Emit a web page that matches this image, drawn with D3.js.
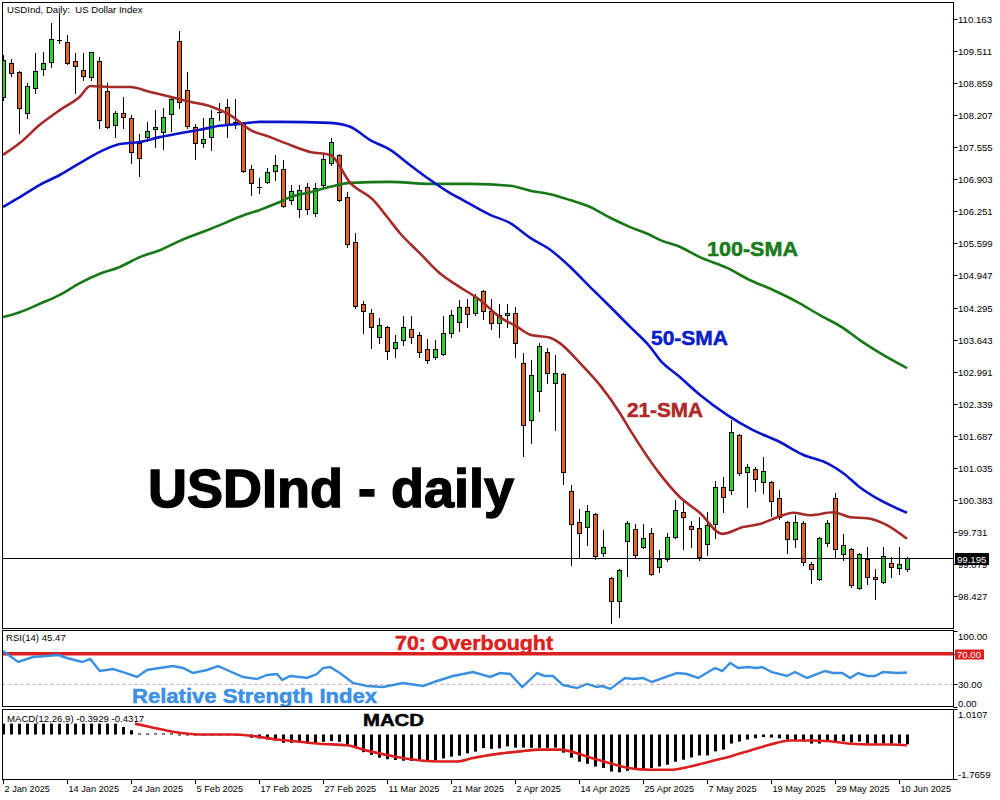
<!DOCTYPE html>
<html><head><meta charset="utf-8">
<script src="https://cdn.jsdelivr.net/npm/d3@7"></script>
<style>body{margin:0;background:#fff}svg{display:block}</style>
</head><body>
<svg id="c" width="1000" height="800"></svg>
<script>
// ---------- DATA ----------
const openP = [
108.58,109.27,109.09,108.25,108.76,109.15,109.29,109.74,109.70,109.31,
109.13,108.98,109.31,108.70,108.01,108.25,108.15,107.64,107.76,107.93,
107.87,108.23,109.72,108.72,107.97,107.64,107.76,108.25,108.37,108.07,
108.05,107.11,106.75,106.85,107.07,107.11,106.48,106.30,106.75,106.22,
106.79,107.23,107.40,106.54,105.63,104.37,104.18,103.70,103.90,103.47,
103.63,103.86,103.74,103.45,103.29,103.35,103.78,104.00,104.31,104.18,
104.63,104.22,103.98,104.14,104.18,103.17,102.01,102.60,103.39,102.76,
102.94,100.56,99.93,99.83,100.09,99.30,98.79,98.33,99.55,99.79,
99.42,99.71,99.02,99.18,99.63,100.13,99.85,99.81,99.49,99.89,
100.64,100.58,101.70,100.95,101.01,100.75,100.75,100.42,99.93,99.59,
99.91,99.08,98.77,99.51,100.42,99.28,99.38,98.59,99.18,98.81,
98.71,99.10,99.00,98.98];
const highP = [
109.43,109.35,109.11,108.86,109.47,109.49,110.08,110.29,109.84,109.47,
109.47,109.49,109.39,108.86,108.29,108.58,108.21,107.82,108.07,108.31,
108.35,108.58,109.92,109.09,108.03,108.15,108.31,108.45,108.54,108.54,
108.07,107.19,106.93,107.13,107.40,107.30,106.79,106.79,106.83,106.83,
107.42,107.74,107.42,106.64,105.81,104.43,104.27,104.08,103.92,103.74,
104.12,104.12,103.80,103.65,103.63,104.12,104.24,104.45,104.47,104.57,
104.65,104.47,104.37,104.37,104.31,103.37,103.23,103.57,103.47,103.33,
102.96,100.69,100.19,100.28,100.11,99.77,98.81,98.98,99.95,99.89,
99.89,99.81,99.36,99.71,100.38,100.34,99.95,100.03,100.13,100.77,
100.85,102.01,101.72,101.11,101.05,101.25,100.77,100.58,99.95,100.07,
99.95,99.12,99.63,99.97,100.52,99.69,99.40,99.30,99.42,98.98,
99.42,99.22,99.42,99.22];
const lowP = [
108.52,109.00,107.84,108.15,108.66,109.02,109.19,109.68,109.25,108.66,
108.92,108.92,107.95,107.95,107.76,107.95,107.23,106.97,107.68,107.56,
107.52,107.89,108.35,107.95,107.32,107.56,107.50,108.11,107.76,107.95,
107.05,106.58,106.62,106.83,106.89,106.34,106.40,106.14,106.20,106.16,
106.75,107.19,106.46,105.53,104.29,103.78,103.47,103.57,103.25,103.29,
103.53,103.57,103.29,103.17,103.25,103.33,103.70,103.82,103.90,104.14,
104.06,103.86,103.70,103.90,103.29,101.27,101.54,102.19,102.76,101.80,
100.71,99.06,99.22,99.47,99.18,99.24,97.88,98.00,98.83,99.20,
99.40,98.85,98.92,99.14,99.61,99.38,99.42,99.16,99.26,99.61,
100.13,100.50,100.89,100.23,100.56,100.52,100.05,99.99,99.30,99.42,
99.06,98.69,98.75,99.44,99.22,99.16,98.61,98.57,98.67,98.37,
98.69,98.81,98.87,98.94];
const closeP = [
109.33,109.07,108.35,108.80,109.11,109.27,109.76,109.72,109.27,109.21,
109.00,109.49,108.11,107.97,108.25,108.17,107.46,107.34,107.89,107.97,
108.17,108.54,108.48,107.99,107.64,107.72,108.15,108.27,108.01,108.03,
107.07,106.83,106.73,107.05,107.19,106.36,106.67,106.69,106.30,106.73,
107.32,107.66,106.48,105.59,104.33,104.22,103.90,103.94,103.41,103.59,
103.90,103.70,103.39,103.23,103.45,103.78,104.14,104.31,104.16,104.51,
104.22,103.98,104.14,104.18,103.57,101.91,102.92,103.51,102.96,102.96,
100.95,99.89,99.71,100.15,99.24,99.42,98.33,98.96,99.91,99.26,
99.61,98.87,99.18,99.63,100.17,100.03,99.79,99.22,99.87,100.64,
100.44,101.76,100.93,101.05,100.81,100.97,100.36,100.03,99.59,99.93,
99.12,98.98,99.61,99.91,99.38,99.47,98.65,99.28,98.81,98.77,
99.24,99.02,99.08,99.195];

// moving averages: [bar index, value]
const sma21 = [[0,107.40],[2.1,107.64],[4.6,108.01],[7.1,108.31],[9.6,108.58],[10.9,108.80],[13.4,108.78],[15.9,108.78],[18.4,108.68],[20.9,108.58],[23.4,108.48],[25.9,108.39],[28.4,108.21],[30.9,107.91],[33.4,107.76],[35.9,107.60],[38.4,107.46],[40.9,107.40],[43.4,106.83],[46.3,106.48],[48,106.14],[49.6,105.81],[52.1,105.40],[54.6,104.99],[57.1,104.71],[59.6,104.45],[62.1,104.10],[64.3,103.90],[65.9,103.74],[68.4,103.68],[69.6,103.57],[72.1,103.17],[74.6,102.72],[77.1,102.15],[78.4,101.80],[82.1,100.91],[84.6,100.44],[87.1,100.12],[89.9,99.69],[92.5,99.83],[94.6,99.89],[96.8,100.03],[98.8,100.12],[100.9,100.07],[103.8,100.13],[105.9,100.03],[108,100.01],[110.5,99.87],[113,99.59]];
const sma50 = [[0,106.34],[2.1,106.54],[4.6,106.79],[7.1,106.99],[9.6,107.23],[12.1,107.46],[14.6,107.62],[17.1,107.66],[19.6,107.76],[22.1,107.84],[24.6,107.91],[27.1,107.99],[29.6,108.03],[32.1,108.07],[34.6,108.07],[40.9,108.05],[43.4,107.97],[45.9,107.70],[48.4,107.50],[50.9,107.19],[53.4,106.89],[55.9,106.62],[57.5,106.48],[60.9,106.18],[63.4,106.01],[65.9,105.71],[68.4,105.47],[70.9,105.12],[73.4,104.71],[75.9,104.31],[78.4,103.90],[80.9,103.49],[82.1,103.23],[84.6,102.88],[87.1,102.52],[90.5,102.11],[93.75,101.80],[97.1,101.56],[100,101.30],[103,101.13],[105,100.93],[107.1,100.64],[109.6,100.38],[113,100.12]];
const sma100 = [[0,104.10],[2.1,104.20],[4.6,104.37],[7.1,104.55],[9.6,104.79],[12.1,104.98],[14.6,105.12],[17.1,105.32],[19.6,105.46],[22.1,105.65],[24.6,105.81],[27.1,105.97],[29.6,106.14],[32.1,106.28],[34.6,106.44],[35.9,106.54],[38.4,106.64],[40.9,106.75],[43.4,106.83],[48.4,106.85],[53.4,106.81],[58.4,106.81],[63.4,106.77],[65.9,106.67],[68.4,106.60],[70.9,106.48],[73.4,106.34],[75.9,106.12],[78.4,105.93],[80.9,105.77],[82.1,105.67],[84.6,105.53],[87.1,105.32],[90.5,105.10],[93.4,104.85],[96.25,104.65],[99.25,104.41],[102.1,104.14],[105,103.88],[107.1,103.63],[109.6,103.37],[113,103.06]];

// RSI(14): [bar index, value]
const rsi = [[0,73.7],[1.9,59.2],[3.75,65.8],[5.5,67.1],[6.9,68.4],[8,64.5],[9.9,59.2],[10.9,63.2],[12.1,47.4],[13.75,50],[15,46],[16.75,39.5],[18,48.7],[19.6,51.3],[21.25,53.9],[22.5,51.3],[23.75,44.7],[25.5,48.7],[26.9,53.9],[28,48.7],[30,39.5],[31.75,36.8],[33,42.1],[34.25,43.4],[34.9,35.5],[35.9,40.8],[37.1,39.5],[38,38.2],[39.25,43.4],[40,51.3],[40.9,52.6],[42.1,44.7],[43.75,31.6],[45.5,27.6],[47.5,26.3],[50,31.6],[52.5,27.6],[54.25,34.2],[56.25,40.8],[58.75,46],[60.9,39.5],[62.1,44.7],[63.4,43.4],[64.9,26.3],[66.75,44.7],[67.75,40.8],[68.75,40.8],[70,28.9],[71.75,25],[73,30.3],[74.25,26.3],[74.9,27.6],[75.9,23.7],[77.75,38.2],[78.75,36.8],[80,38.2],[81.1,32.9],[82.1,36.8],[84.25,44.7],[85.5,43.4],[86.9,38.2],[89,51.3],[89.9,47.4],[90.9,57.9],[91.9,51.3],[93.1,52.6],[94.25,51.3],[94.9,52.6],[96.1,46],[98,40.8],[99,46],[100.5,38.2],[102.75,47.4],[103.75,44.7],[104.9,44.7],[105.9,38.2],[106.9,44.7],[108,40.8],[109,40.8],[110,46],[111.9,44.7],[113,45.47]];

// MACD(12,26,9) histogram, one per bar
const macdHist = [
0.43,0.43,0.43,0.43,0.43,0.43,0.43,0.43,0.43,0.43,
0.43,0.43,0.43,0.43,0.43,0.30,0.17,0.04,0.04,0.04,
0.04,0.04,-0.03,-0.03,-0.03,-0.03,-0.03,-0.03,-0.03,-0.03,
-0.03,-0.13,-0.16,-0.20,-0.24,-0.33,-0.33,-0.33,-0.36,-0.36,
-0.29,-0.26,-0.29,-0.43,-0.54,-0.70,-0.81,-0.92,-0.98,-1.01,
-1.04,-1.05,-1.04,-1.04,-1.01,-0.95,-0.88,-0.84,-0.75,-0.68,
-0.54,-0.57,-0.55,-0.47,-0.52,-0.52,-0.53,-0.53,-0.53,-0.52,
-0.72,-0.92,-1.08,-1.16,-1.27,-1.33,-1.47,-1.50,-1.44,-1.40,
-1.40,-1.33,-1.27,-1.20,-1.08,-1.00,-0.91,-0.83,-0.83,-0.67,
-0.60,-0.36,-0.28,-0.20,-0.15,-0.10,-0.12,-0.15,-0.20,-0.22,
-0.27,-0.36,-0.36,-0.28,-0.28,-0.27,-0.32,-0.28,-0.36,-0.36,
-0.36,-0.36,-0.36,-0.39];
// MACD signal line: [bar index, value]
const macdSignal = [[16.5,0.43],[18.4,0.30],[21.25,0.11],[24.6,0.0],[28.75,0.0],[31.25,-0.06],[34.25,-0.20],[37.1,-0.29],[39.6,-0.37],[43,-0.43],[45.5,-0.64],[49.6,-0.91],[52.5,-1.04],[54.6,-1.07],[56.75,-1.07],[58.75,-0.93],[62.1,-0.76],[64.6,-0.67],[67.1,-0.60],[69.6,-0.60],[70.9,-0.67],[73.4,-0.91],[75.9,-1.14],[78.4,-1.34],[80.9,-1.40],[83.4,-1.40],[85.9,-1.27],[88.4,-1.07],[90.9,-0.87],[93.4,-0.64],[95.9,-0.40],[98.4,-0.24],[100.9,-0.24],[103.4,-0.27],[105.9,-0.37],[108.4,-0.40],[110.9,-0.40],[113,-0.43]];

const xTickIdx = [0,8,16,24,32,40,48,56,64,72,80,88,96,104,112];
const xTickLabels = ["2 Jan 2025","14 Jan 2025","24 Jan 2025","5 Feb 2025","17 Feb 2025","27 Feb 2025","11 Mar 2025","21 Mar 2025","2 Apr 2025","14 Apr 2025","25 Apr 2025","7 May 2025","19 May 2025","29 May 2025","10 Jun 2025"];
const priceTicks = [110.163,109.511,108.859,108.207,107.555,106.903,106.251,105.599,104.947,104.295,103.643,102.991,102.339,101.687,101.035,100.383,99.731,99.079,98.427];
const rsiTicks = [100,70,30,0];
const macdTicks = [1.0107,-1.7659];
const lastPrice = 99.195;

// ---------- DRAW ----------
const svg = d3.select('#c');
const FONT = "'Liberation Sans', Arial, sans-serif";
const L = 2.5, R = 953.5;
const P = {main:[2.5,628.5], rsi:[630.5,706.5], macd:[709.5,779.5]};

const x = d3.scaleLinear().domain([0,113]).range([3,907]);
const y = d3.scaleLinear().domain([98.427,110.163]).range([596,19]);
const yr = d3.scaleLinear().domain([0,100]).range([707,631]);
const ym = d3.scaleLinear().domain([-1.7659,1.0107]).range([779,709]);

svg.append('rect').attr('width',1000).attr('height',800).attr('fill','#fff');

const defs = svg.append('defs');
Object.entries(P).forEach(([k,[t,b]])=>{
  defs.append('clipPath').attr('id','clip-'+k).append('rect')
    .attr('x',L+0.5).attr('y',t+0.5).attr('width',R-L-1).attr('height',b-t-1);
});

// main panel
const gMain = svg.append('g').attr('clip-path','url(#clip-main)');
const bars = d3.range(openP.length);
bars.forEach(i=>{
  const cx = Math.round(x(i));
  const o=openP[i], h=highP[i], l=lowP[i], c=closeP[i];
  gMain.append('line').attr('x1',cx+0.5).attr('x2',cx+0.5)
    .attr('y1',Math.round(y(h))).attr('y2',Math.round(y(l))+1)
    .attr('stroke','#000').attr('stroke-width',1);
  const top = Math.round(y(Math.max(o,c))), bot = Math.round(y(Math.min(o,c)));
  if (Math.abs(o-c) < 0.025 || bot-top < 1) {
    gMain.append('line').attr('x1',cx-2).attr('x2',cx+3)
      .attr('y1',top+0.5).attr('y2',top+0.5).attr('stroke','#000');
  } else {
    gMain.append('rect').attr('x',cx-1.5).attr('y',top+0.5)
      .attr('width',4).attr('height',bot-top)
      .attr('fill', c>=o ? '#32cd32' : '#e1642d')
      .attr('stroke','#000').attr('stroke-width',1);
  }
});

// last price line
gMain.append('line').attr('x1',L).attr('x2',R)
  .attr('y1',Math.round(y(lastPrice))+0.5).attr('y2',Math.round(y(lastPrice))+0.5)
  .attr('stroke','#000').attr('stroke-width',1);

const lineP = d3.line().x(d=>x(d[0])).y(d=>y(d[1])).curve(d3.curveMonotoneX);
gMain.append('path').datum(sma100).attr('d',lineP).attr('fill','none').attr('stroke','#187818').attr('stroke-width',2.6);
gMain.append('path').datum(sma50).attr('d',lineP).attr('fill','none').attr('stroke','#0a14c8').attr('stroke-width',2.6);
gMain.append('path').datum(sma21).attr('d',lineP).attr('fill','none').attr('stroke','#a52a2a').attr('stroke-width',2.6);

// main annotations
svg.append('text').attr('x',7).attr('y',13).attr('font-family',FONT).attr('font-size',9.6).attr('fill','#000')
  .attr('xml:space','preserve').text('USDInd, Daily:  US Dollar Index');
svg.append('text').attr('x',148).attr('y',507).attr('font-family',FONT).attr('font-weight','bold')
  .attr('font-size',54).attr('fill','#000').attr('stroke','#000').attr('stroke-width',1.4)
  .attr('textLength',366).attr('lengthAdjust','spacingAndGlyphs').text('USDInd - daily');
const lab = (t,xx,yy,len,col,fs)=>svg.append('text').attr('x',xx).attr('y',yy).attr('font-family',FONT)
  .attr('font-weight','bold').attr('font-size',fs).attr('fill',col).attr('stroke',col).attr('stroke-width',0.5)
  .attr('textLength',len).attr('lengthAdjust','spacingAndGlyphs').text(t);
lab('100-SMA',707,256,91,'#1a7a1a',20);
lab('50-SMA',651,345,77,'#0a1ec8',20);
lab('21-SMA',627,417,76,'#b02828',20);

// RSI panel
const gR = svg.append('g').attr('clip-path','url(#clip-rsi)');
gR.append('line').attr('x1',L).attr('x2',R).attr('y1',Math.round(yr(30))+0.5).attr('y2',Math.round(yr(30))+0.5)
  .attr('stroke','#d4aaaa').attr('stroke-dasharray','3,3');
gR.append('line').attr('x1',L).attr('x2',R).attr('y1',yr(70)).attr('y2',yr(70))
  .attr('stroke','#dc1e1e').attr('stroke-width',3.5);
gR.append('path').datum(rsi).attr('d',d3.line().x(d=>x(d[0])).y(d=>yr(d[1])))
  .attr('fill','none').attr('stroke','#3a8fe0').attr('stroke-width',2.4);
svg.append('text').attr('x',6).attr('y',641).attr('font-family',FONT).attr('font-size',9.6).text('RSI(14) 45.47');
lab('70: Overbought',395,650,158,'#dc1e1e',20);
lab('Relative Strength Index',132,703,245,'#3c90e4',20);

// MACD panel
const gM = svg.append('g').attr('clip-path','url(#clip-macd)');
const z0 = ym(0);
bars.forEach(i=>{
  const cx = Math.round(x(i)); const v = macdHist[i];
  const yy = ym(v);
  const t = Math.min(yy,z0), hgt = Math.max(1, Math.abs(yy-z0));
  gM.append('rect').attr('x',cx-1).attr('y',t).attr('width',3).attr('height',hgt).attr('fill','#000');
});
gM.append('path').datum(macdSignal).attr('d',d3.line().x(d=>x(d[0])).y(d=>ym(d[1])).curve(d3.curveMonotoneX))
  .attr('fill','none').attr('stroke','#dc1e1e').attr('stroke-width',2.6);
svg.append('text').attr('x',7).attr('y',722).attr('font-family',FONT).attr('font-size',9.6).text('MACD(12,26,9) -0.3929 -0.4317');
lab('MACD',363,726,61,'#000',17);

// panel frames
Object.values(P).forEach(([t,b])=>{
  svg.append('rect').attr('x',L).attr('y',t).attr('width',R-L).attr('height',b-t)
    .attr('fill','none').attr('stroke','#000').attr('stroke-width',1);
});

// right axes
const axisG = svg.append('g').attr('font-family',FONT).attr('font-size',9.6).attr('fill','#000');
priceTicks.forEach(v=>{
  const yy = Math.round(y(v))+0.5;
  axisG.append('line').attr('x1',R).attr('x2',R+4).attr('y1',yy).attr('y2',yy).attr('stroke','#000');
  axisG.append('text').attr('x',958).attr('y',yy+3.5).text(v.toFixed(3));
});
{
  const yy = Math.round(y(lastPrice));
  axisG.append('rect').attr('x',955).attr('y',yy-5).attr('width',34).attr('height',12).attr('fill','#000');
  axisG.append('text').attr('x',957).attr('y',yy+4.5).attr('fill','#fff').text(lastPrice.toFixed(3));
}
rsiTicks.forEach(v=>{
  const yy = Math.round(yr(v))+0.5;
  axisG.append('line').attr('x1',R).attr('x2',R+4).attr('y1',yy).attr('y2',yy).attr('stroke','#000');
  let ty = yy+3.5;
  if (v===100) ty = yy+8; if (v===0) ty = yy-1;
  if (v===70) {
    axisG.append('rect').attr('x',955).attr('y',yy-5).attr('width',29).attr('height',10).attr('fill','#dc1e1e');
    axisG.append('text').attr('x',957).attr('y',yy+3.5).attr('fill','#fff').text(v.toFixed(2));
  } else {
    axisG.append('text').attr('x',958).attr('y',ty).text(v.toFixed(2));
  }
});
macdTicks.forEach(v=>{
  const yy = Math.round(ym(v))+0.5;
  axisG.append('line').attr('x1',R).attr('x2',R+4).attr('y1',yy).attr('y2',yy).attr('stroke','#000');
  axisG.append('text').attr('x',958).attr('y', v>0 ? yy+8 : yy-2).text(v.toFixed(4));
});

// x axis
xTickIdx.forEach((idx,k)=>{
  const xx = Math.round(x(idx))+0.5;
  axisG.append('line').attr('x1',xx).attr('x2',xx).attr('y1',779.5).attr('y2',784).attr('stroke','#000');
  axisG.append('text').attr('x',xx+1).attr('y',792).attr('font-size',9.2).text(xTickLabels[k]);
});
</script>
</body></html>
